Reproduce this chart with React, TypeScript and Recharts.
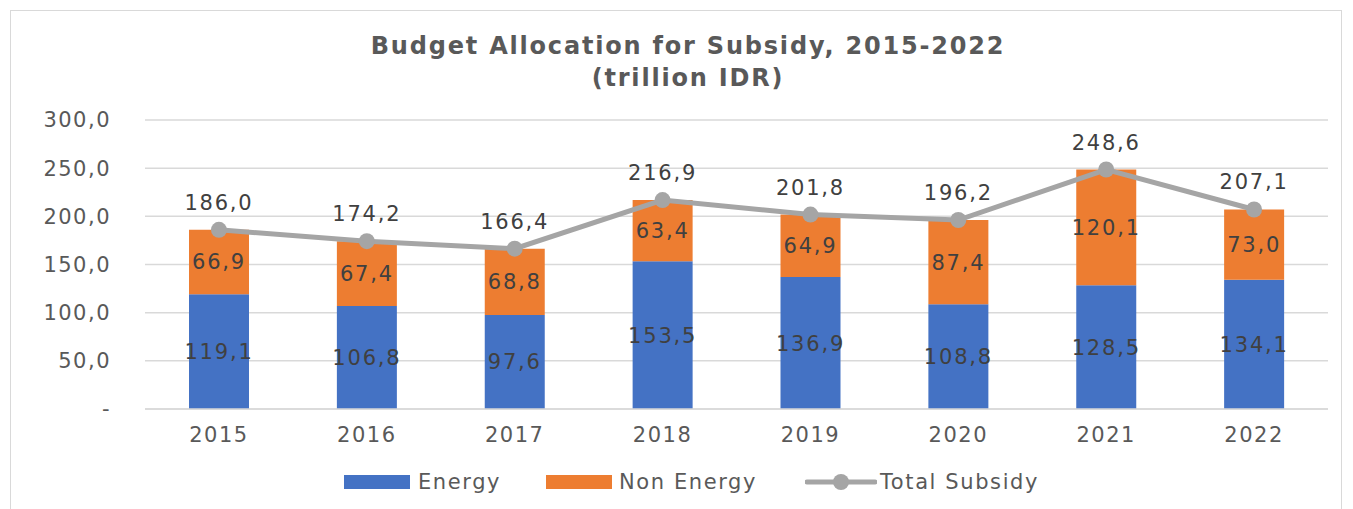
import React from "react";
import {
  ComposedChart,
  Bar,
  Line,
  XAxis,
  YAxis,
  CartesianGrid,
  Legend,
  LabelList,
} from "recharts";

const years = ["2015", "2016", "2017", "2018", "2019", "2020", "2021", "2022"];
const energy = [119.1, 106.8, 97.6, 153.5, 136.9, 108.8, 128.5, 134.1];
const nonEnergy = [66.9, 67.4, 68.8, 63.4, 64.9, 87.4, 120.1, 73.0];
const totalSubsidy = [186.0, 174.2, 166.4, 216.9, 201.8, 196.2, 248.6, 207.1];
const yTicks = [0, 50, 100, 150, 200, 250, 300];

const data = years.map((year, i) => ({
  year,
  energy: energy[i],
  nonEnergy: nonEnergy[i],
  total: totalSubsidy[i],
}));

const FONT = "'DejaVu Sans', 'Open Sans', sans-serif";
const fmt = (v: number) => v.toFixed(1).replace(".", ",");
const fmtTick = (v: number) => (v === 0 ? "-" : fmt(v));

const labelStyle = {
  fill: "#404040",
  fontSize: 21,
  fontFamily: FONT,
  letterSpacing: 1.8,
};

const tickStyle = { fontSize: 21, fill: "#595959", fontFamily: FONT, letterSpacing: 1.5 };

const LegendBox = () => {
  const text = { fontSize: 21, color: "#595959", letterSpacing: 1.6, fontFamily: FONT };
  return (
    <div style={{ display: "flex", alignItems: "center", height: 30, paddingLeft: 333 }}>
      <span style={{ width: 66, height: 14, background: "#4472C4", marginRight: 8 }} />
      <span style={{ ...text, width: 128 }}>Energy</span>
      <span style={{ width: 66, height: 14, background: "#ED7D31", marginRight: 7 }} />
      <span style={{ ...text, width: 186 }}>Non Energy</span>
      <svg width={72} height={20} style={{ marginRight: 3 }}>
        <line x1={2} y1={10} x2={70} y2={10} stroke="#A5A5A5" strokeWidth={5} strokeLinecap="round" />
        <circle cx={36} cy={10} r={8} fill="#A5A5A5" />
      </svg>
      <span style={text}>Total Subsidy</span>
    </div>
  );
};

export default function App() {
  return (
    <div
      style={{
        position: "relative",
        width: 1330,
        height: 500,
        border: "1px solid #d9d9d9",
        margin: "2px 0 0 2px",
        fontFamily: FONT,
        background: "#fff",
      }}
    >
      <div
        style={{
          position: "absolute",
          top: 19,
          left: 0,
          width: 1354,
          textAlign: "center",
          fontWeight: "bold",
          fontSize: 24,
          lineHeight: "32px",
          color: "#595959",
          letterSpacing: 1.8,
          zIndex: 1,
        }}
      >
        Budget Allocation for Subsidy, 2015-2022
        <br />
        (trillion IDR)
      </div>
      <ComposedChart
        width={1330}
        height={500}
        data={data}
        margin={{ top: 109, right: 13, left: 0, bottom: 14 }}
      >
        <CartesianGrid vertical={false} stroke="#d9d9d9" strokeWidth={1.5} />
        <XAxis
          dataKey="year"
          tickLine={false}
          axisLine={{ stroke: "#d9d9d9", strokeWidth: 1.5 }}
          height={58}
          tickMargin={12}
          tick={tickStyle}
        />
        <YAxis
          domain={[0, 300]}
          ticks={yTicks}
          tickFormatter={fmtTick}
          tickLine={false}
          axisLine={false}
          width={134}
          tickMargin={28}
          tick={tickStyle}
        />
        <Legend verticalAlign="bottom" content={() => <LegendBox />} />
        <Bar dataKey="energy" name="Energy" stackId="a" fill="#4472C4" barSize={60} isAnimationActive={false}>
          <LabelList dataKey="energy" position="center" formatter={(v: number) => fmt(v)} style={labelStyle} />
        </Bar>
        <Bar dataKey="nonEnergy" name="Non Energy" stackId="a" fill="#ED7D31" barSize={60} isAnimationActive={false}>
          <LabelList dataKey="nonEnergy" position="center" formatter={(v: number) => fmt(v)} style={labelStyle} />
        </Bar>
        <Line
          dataKey="total"
          name="Total Subsidy"
          stroke="#A5A5A5"
          strokeWidth={5}
          dot={{ r: 8, fill: "#A5A5A5", stroke: "#A5A5A5", strokeWidth: 0 }}
          isAnimationActive={false}
        >
          <LabelList dataKey="total" position="top" offset={20} formatter={(v: number) => fmt(v)} style={labelStyle} />
        </Line>
      </ComposedChart>
    </div>
  );
}
